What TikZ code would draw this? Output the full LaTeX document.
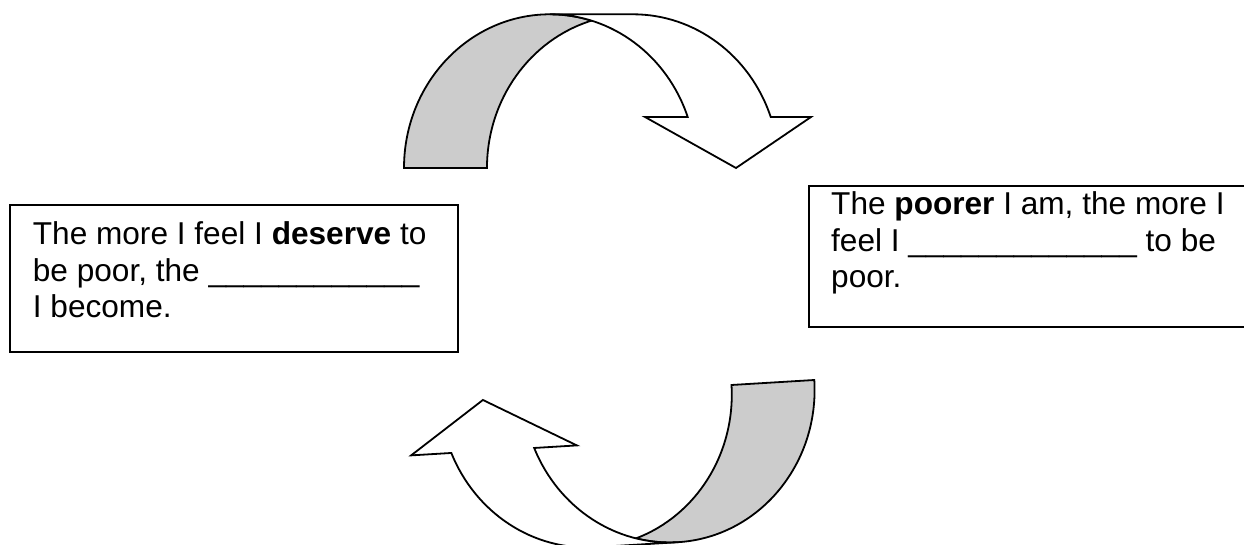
\documentclass[tikz,border=0pt]{standalone}
\usepackage{fontspec}
\setmainfont{Liberation Sans}
\definecolor{bandgray}{RGB}{204,204,204}
\tikzset{
  outl/.style={draw=black, line width=1.8pt, line join=miter},
  backband/.style={outl, fill=bandgray},
  frontband/.style={outl, fill=white},
  textbox/.style={draw=black, line width=2pt, rectangle, inner sep=0pt, fill=white},
  boxtext/.style={align=left, inner sep=0pt, font=\fontsize{31.6}{36.3}\selectfont},
}
\newcommand{\mycurvedarrow}{%
  \path[backband] (404,376)
    arc[start angle=180, end angle=90, x radius=146, y radius=153.7]
    arc[start angle=90, end angle=73.49, x radius=146, y radius=153.7]
    arc[start angle=106.51, end angle=180, x radius=146, y radius=153.7] -- cycle;
  \path[frontband] (550,529.7) -- (633,529.7)
    arc[start angle=90, end angle=19.38, x radius=146, y radius=153.7]
    -- (811,427) -- (736,376) -- (645,427) -- (687.7,427)
    arc[start angle=19.38, end angle=90, x radius=146, y radius=153.7] -- cycle;
}
\begin{document}
\begin{tikzpicture}[x=1pt, y=1pt]
  \useasboundingbox (0,0) rectangle (1244,544);
  \clip (0,0) rectangle (1244,544);
  \fill[white] (0,0) rectangle (1244,544);
  % top curved arrow
  \mycurvedarrow
  % bottom curved arrow (same shape turned round)
  \begin{scope}[shift={(814.3,164)}, rotate=183.45, shift={(-404,-376)}]
    \mycurvedarrow
  \end{scope}
  % boxes
  \node[textbox, anchor=north west, minimum width=448pt, minimum height=147pt] (lbox) at (9,340) {};
  \node[boxtext, anchor=base west] (ltext) at (32.7,226.4)
    {The more I feel I \textbf{deserve} to\\be poor, the \_\_\_\_\_\_\_\_\_\_\_\_\\I become.};
  \node[textbox, anchor=north west, minimum width=460pt, minimum height=141pt] (rbox) at (808,359) {};
  \node[boxtext, anchor=base west] (rtext) at (831,256.4)
    {The \textbf{poorer} I am, the more I\\feel I \_\_\_\_\_\_\_\_\_\_\_\_\_ to be\\poor.};
\end{tikzpicture}
\end{document}
